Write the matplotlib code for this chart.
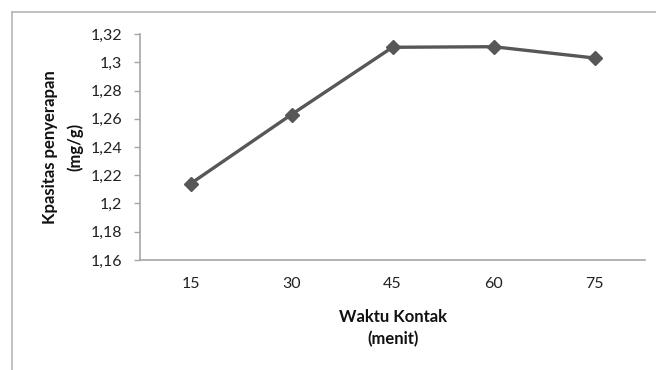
import matplotlib
matplotlib.use("Agg")
import matplotlib.pyplot as plt
from matplotlib.ticker import FuncFormatter, MultipleLocator
from matplotlib.lines import Line2D

# Contact time (minutes) and adsorption capacity (mg/g)
waktu = ["15", "30", "45", "60", "75"]
kapasitas = [1.214, 1.263, 1.3106, 1.311, 1.303]

y_min, y_max, y_step = 1.16, 1.32, 0.02

plt.rcParams["font.family"] = ["Lato", "DejaVu Sans"]

fig = plt.figure(figsize=(6.56, 3.70), dpi=100)
ax = fig.add_axes([140 / 656, 1 - 260 / 370, 505 / 656, 226 / 370])

x = list(range(len(waktu)))
ax.plot(x, kapasitas, color="#575757", lw=2.4, marker="D", markersize=7.5,
        markerfacecolor="#575757", markeredgecolor="#575757", zorder=3)

ax.set_xlim(-0.5, len(waktu) - 0.5)
ax.set_ylim(y_min, y_max)
ax.set_xticks(x)
ax.set_xticklabels(waktu)
ax.yaxis.set_major_locator(MultipleLocator(y_step))


def koma(v, pos):
    s = f"{v:.2f}".rstrip("0").rstrip(".")
    return s.replace(".", ",")


ax.yaxis.set_major_formatter(FuncFormatter(koma))

for side in ("top", "right"):
    ax.spines[side].set_visible(False)
for side in ("left", "bottom"):
    ax.spines[side].set_color("#a6a6a6")
    ax.spines[side].set_linewidth(1.2)

ax.tick_params(axis="y", length=4, width=1, color="#a6a6a6", pad=9,
               labelsize=11.5, labelcolor="#222222")
ax.tick_params(axis="x", length=0, pad=12, labelsize=11.5, labelcolor="#222222")

lab = dict(fontsize=12, fontweight="bold", color="#111111")
fig.text(393 / 656, 1 - 317 / 370, "Waktu Kontak", ha="center", va="center", **lab)
fig.text(393 / 656, 1 - 339 / 370, "(menit)", ha="center", va="center", **lab)

fig.text(50 / 656, 1 - 147 / 370, "Kpasitas penyerapan", ha="center", va="center",
         rotation=90, **lab)
fig.text(75 / 656, 1 - 147 / 370, "(mg/g)", ha="center", va="center",
         rotation=90, **lab)

# chart-area frame
bx, by = 12 / 656, 1 - 12 / 370
fig.add_artist(Line2D([bx, bx], [0, by], transform=fig.transFigure,
                      color="#b5b5b5", lw=1.2))
fig.add_artist(Line2D([bx, 1], [by, by], transform=fig.transFigure,
                      color="#b5b5b5", lw=1.2))

fig.savefig("out.png", dpi=100)
